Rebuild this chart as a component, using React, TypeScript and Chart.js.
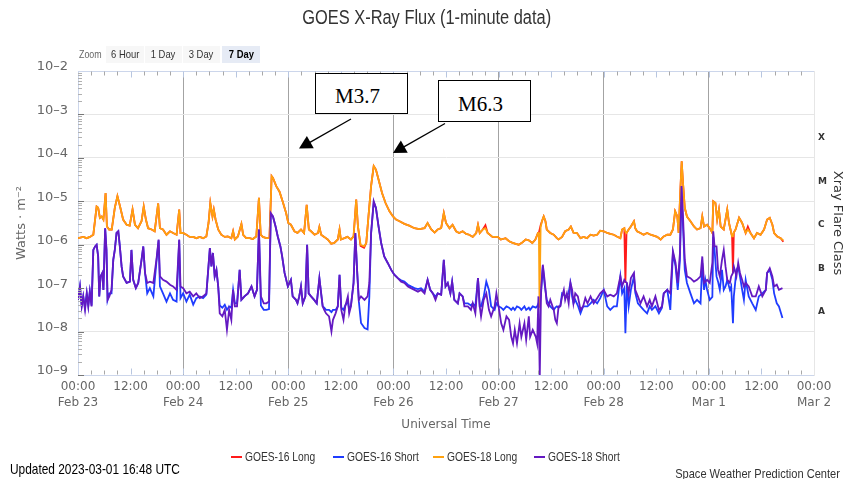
import React, { useEffect, useRef } from 'react';
import { Chart, registerables } from 'chart.js';

Chart.register(...registerables);

// ---------- data (hours since Feb 23 00:00 UTC, values as log10 of W/m²) ----------
const dayLabels = ['Feb 23', 'Feb 24', 'Feb 25', 'Feb 26', 'Feb 27', 'Feb 28', 'Mar 1', 'Mar 2'];
const tickHours = [0, 12, 24, 36, 48, 60, 72, 84, 96, 108, 120, 132, 144, 156, 168];
const fluxDecades = [-9, -8, -7, -6, -5, -4, -3, -2];
const flareClasses = ['A', 'B', 'C', 'M', 'X'];
const flareClassExps = [-7.5, -6.5, -5.5, -4.5, -3.5];

const longHours = [
  0, 1.2, 2, 2.7, 3.5, 3.9, 4.25, 4.6, 5, 5.4,
  5.8, 6.3, 6.6, 7.1, 7.7, 8.4, 9, 9.6, 10.3, 11.1,
  11.8, 12.45, 13, 13.7, 14.5, 15, 15.5, 16, 16.8, 17.5,
  18.3, 18.7, 19.4, 20.2, 21, 21.7, 22.5, 23.1, 23.4, 24,
  24.75, 25.5, 26.3, 27, 27.8, 28.55, 29.3, 29.8, 30.2, 30.7,
  31, 31.4, 32, 32.7, 33.5, 34.2, 35, 35.4, 35.8, 36.5,
  37.3, 37.7, 38.4, 39.2, 39.9, 40.7, 41.3, 41.7, 42.2, 43,
  43.7, 44.2, 44.5, 45.25, 46, 46.7, 47.5, 48, 48.6, 49.4,
  50.1, 50.9, 51.6, 52.2, 52.7, 53.2, 54, 54.8, 55.1, 55.5,
  56.2, 57, 57.8, 58.5, 59.3, 59.7, 60, 60.8, 61.5, 62.3,
  62.9, 63.5, 63.9, 64.5, 65.3, 65.8, 66.3, 66.9, 67.5, 68,
  68.6, 69.4, 70.2, 71.1, 71.9, 72.6, 73.4, 74.5, 75.6, 76.8,
  77.9, 79.1, 79.8, 80.6, 81.4, 82.1, 82.9, 83.5, 84, 84.8,
  85.5, 86.3, 87, 87.8, 88.6, 89.3, 90.1, 90.9, 91.3, 91.7,
  92.4, 93, 93.5, 94.6, 95.8, 96.5, 97.6, 98.4, 99.1, 99.9,
  100.6, 101.4, 102.2, 102.9, 103.7, 104.4, 105, 105.2, 105.35, 105.6,
  105.9, 106.3, 106.7, 107, 107.8, 108.6, 109.3, 109.7, 110.5, 111.2,
  112, 112.5, 113.1, 113.9, 114.7, 115.4, 116.2, 117, 117.7, 118.5,
  119.2, 120, 120.8, 121.5, 122.3, 123, 123.8, 124.2, 124.7, 124.95,
  125.2, 125.7, 126.2, 126.9, 127.2, 127.6, 128.4, 129.1, 129.9, 130.7,
  131.4, 132.2, 133, 133.7, 134.5, 135.2, 135.8, 136.3, 136.8, 137.1,
  137.5, 137.8, 138.1, 138.5, 139, 139.8, 140.6, 141.3, 142.1, 142.5,
  142.9, 143.6, 144.4, 144.8, 145, 145.5, 145.9, 146.3, 146.7, 147.4,
  148.2, 148.6, 149.3, 149.5, 149.7, 150.1, 150.9, 151.6, 152.4, 152.9,
  153.5, 154.3, 155, 155.8, 156.6, 157.3, 157.9, 158.5, 158.9, 159.6,
  160.4, 161,
];

const goes18Long = [
  -5.85, -5.82, -5.85, -5.82, -5.77, -5.42, -5.12, -5.15, -5.38, -5.35,
  -5.42, -4.81, -5.58, -5.65, -5.65, -5.15, -4.88, -5.12, -5.42, -5.54,
  -5.56, -5.19, -5.54, -5.62, -5.46, -5.12, -5.42, -5.62, -5.65, -5.69,
  -5.05, -5.62, -5.65, -5.77, -5.69, -5.73, -5.77, -5.19, -5.73, -5.73,
  -5.77, -5.82, -5.82, -5.85, -5.82, -5.85, -5.81, -5.5, -5.04, -5.35,
  -5.19, -5.42, -5.65, -5.77, -5.82, -5.81, -5.85, -5.69, -5.88, -5.81,
  -5.52, -5.77, -5.85, -5.85, -5.87, -5.81, -4.92, -5.77, -5.82, -5.85,
  -5.85, -4.42, -4.46, -4.65, -4.78, -5.0, -5.27, -5.5, -5.54, -5.69,
  -5.73, -5.65, -5.73, -5.08, -5.65, -5.69, -5.77, -5.73, -5.59, -5.77,
  -5.82, -5.88, -5.98, -5.96, -5.88, -5.65, -5.88, -5.85, -5.82, -5.88,
  -5.81, -4.96, -5.58, -6.0, -6.04, -5.96, -5.35, -4.65, -4.19, -4.27,
  -4.5, -4.81, -5.04, -5.23, -5.35, -5.42, -5.46, -5.52, -5.56, -5.62,
  -5.64, -5.62, -5.5, -5.64, -5.72, -5.65, -5.62, -5.27, -5.5, -5.62,
  -5.54, -5.69, -5.73, -5.69, -5.75, -5.77, -5.82, -5.73, -5.54, -5.73,
  -5.65, -5.62, -5.73, -5.82, -5.82, -5.88, -5.85, -5.92, -5.95, -5.98,
  -6.0, -5.95, -5.88, -5.9, -5.96, -5.88, -5.73, -5.72, -7.45, -5.6,
  -5.46, -5.35, -5.46, -5.65, -5.73, -5.77, -5.85, -5.88, -5.82, -5.69,
  -5.65, -5.58, -5.72, -5.73, -5.85, -5.82, -5.85, -5.77, -5.79, -5.77,
  -5.68, -5.69, -5.73, -5.75, -5.77, -5.81, -5.85, -5.65, -5.62, -5.7,
  -5.73, -5.65, -5.58, -5.46, -5.62, -5.69, -5.73, -5.77, -5.73, -5.77,
  -5.79, -5.82, -5.88, -5.81, -5.77, -5.77, -5.65, -5.23, -5.35, -5.73,
  -4.73, -4.08, -4.58, -5.15, -5.35, -5.46, -5.58, -5.65, -5.62, -5.35,
  -5.58, -5.54, -5.65, -5.73, -5.0, -5.04, -5.42, -5.19, -5.58, -5.65,
  -5.19, -5.5, -5.81, -5.78, -5.72, -5.65, -5.38, -5.5, -5.73, -5.65,
  -5.73, -5.85, -5.73, -5.77, -5.65, -5.42, -5.38, -5.54, -5.73, -5.81,
  -5.85, -5.9,
];

const goes16Long = [
  -5.85, -5.82, -5.85, -5.82, -5.77, -5.42, -5.12, -5.15, -5.38, -5.35,
  -5.42, -4.81, -5.58, -5.65, -5.65, -5.15, -4.88, -5.12, -5.42, -5.54,
  -5.56, -5.19, -5.54, -5.62, -5.46, -5.12, -5.42, -5.62, -5.65, -5.69,
  -5.05, -5.62, -5.65, -5.77, -5.69, -5.73, -5.77, -5.19, -5.73, -5.73,
  -5.77, -5.82, -5.82, -5.85, -5.82, -5.85, -5.81, -5.5, -5.04, -5.35,
  -5.19, -5.42, -5.65, -5.77, -5.82, -5.81, -5.85, -5.69, -5.88, -5.81,
  -5.52, -5.77, -5.85, -5.85, -5.87, -5.81, -4.92, -5.77, -5.82, -5.85,
  -5.85, -4.42, -4.46, -4.65, -4.78, -5.0, -5.27, -5.5, -5.54, -5.69,
  -5.73, -5.65, -5.73, -5.08, -5.65, -5.69, -5.77, -5.73, -5.59, -5.77,
  -5.82, -5.88, -5.98, -5.96, -5.88, -5.65, -5.88, -5.85, -5.82, -5.88,
  -5.81, -4.96, -5.58, -6.03, -6.07, -5.96, -5.35, -4.65, -4.19, -4.27,
  -4.5, -4.81, -5.04, -5.23, -5.35, -5.42, -5.46, -5.52, -5.56, -5.62,
  -5.64, -5.62, -5.5, -5.64, -5.72, -5.65, -5.62, -5.27, -5.5, -5.62,
  -5.54, -5.69, -5.73, -5.69, -5.75, -5.77, -5.82, -5.73, -5.54, -5.73,
  -5.65, -5.55, -5.73, -5.82, -5.82, -5.88, -5.85, -5.92, -5.95, -5.98,
  -6.0, -5.95, -5.88, -5.9, -5.96, -5.88, -5.73, -5.72, -5.66, -5.55,
  -5.46, -5.35, -5.46, -5.65, -5.73, -5.77, -5.85, -5.88, -5.82, -5.69,
  -5.65, -5.58, -5.72, -5.73, -5.85, -5.82, -5.85, -5.77, -5.79, -5.77,
  -5.68, -5.69, -5.73, -5.75, -5.77, -5.81, -5.85, -5.65, -5.62, -6.88,
  -5.73, -5.65, -5.58, -5.46, -5.62, -5.69, -5.73, -5.77, -5.73, -5.77,
  -5.79, -5.82, -5.88, -5.81, -5.77, -5.77, -5.65, -5.23, -5.35, -5.73,
  -4.73, -4.08, -4.58, -5.15, -5.35, -5.46, -5.58, -5.65, -5.62, -5.35,
  -5.58, -5.54, -5.65, -5.73, -5.0, -5.04, -5.42, -5.19, -5.58, -5.65,
  -5.19, -5.5, -5.81, -6.65, -5.72, -5.65, -5.38, -5.5, -5.73, -5.58,
  -5.73, -5.85, -5.73, -5.77, -5.65, -5.42, -5.38, -5.54, -5.73, -5.81,
  -5.85, -5.93,
];

const shortHours = [
  0, 0.45, 0.85, 1.2, 1.6, 2, 2.35, 2.7, 3.1, 3.5,
  3.9, 4.25, 4.6, 4.85, 5.15, 5.55, 5.8, 6.2, 6.5, 6.75,
  7.15, 7.65, 8.05, 8.4, 8.8, 9.2, 9.55, 9.95, 10.3, 11.1,
  11.85, 12.2, 12.6, 13.2, 13.75, 14.5, 14.9, 15.3, 15.8, 16.4,
  17.2, 17.9, 18.4, 18.7, 19.4, 20.2, 21, 21.7, 22.5, 23.1,
  23.4, 24, 24.75, 25.5, 26.3, 27, 27.8, 28.55, 29.3, 30.1,
  30.45, 30.8, 31.2, 31.6, 32, 32.35, 32.95, 33.5, 34, 34.5,
  35, 35.4, 35.8, 36.3, 36.9, 37.3, 38, 38.8, 39.6, 40.3,
  40.85, 41.3, 41.75, 42.4, 43, 43.6, 44, 44.5, 45.1, 45.6,
  46.2, 46.6, 47.15, 47.9, 48.6, 49, 49.75, 50.1, 50.5, 50.9,
  51.3, 51.9, 52.3, 52.65, 53.2, 53.9, 54.5, 55.1, 55.5, 55.85,
  56.2, 56.6, 57.3, 57.85, 58.2, 58.8, 59.3, 59.7, 60.1, 60.6,
  61, 61.6, 61.9, 62.3, 62.9, 63.3, 63.7, 64.1, 64.6, 65.4,
  66.1, 66.5, 66.9, 67.5, 68, 68.6, 69.2, 69.9, 70.7, 71.5,
  72.2, 73, 73.75, 74.5, 75.3, 76, 76.8, 77.6, 78.3, 79.1,
  79.8, 80.4, 81, 81.6, 82.1, 82.9, 83.5, 83.9, 84.4, 85,
  85.4, 85.9, 86.7, 87.1, 87.8, 88.2, 89, 89.7, 90.1, 90.7,
  91.3, 91.7, 92, 92.6, 93.2, 93.8, 94.3, 95.1, 95.5, 96,
  96.6, 97.1, 97.8, 98.4, 98.9, 99.3, 99.7, 100.2, 100.8, 101.2,
  101.9, 102.3, 102.9, 103.2, 103.8, 104.5, 104.8, 105.1, 105.4, 105.7,
  106.1, 106.5, 107, 107.4, 107.8, 108.6, 108.95, 109.3, 109.7, 110.1,
  110.5, 110.9, 111.2, 111.6, 112, 112.4, 112.8, 113.1, 113.5, 114.1,
  114.7, 115.3, 115.8, 116.3, 117, 117.7, 118.5, 119.2, 120, 120.8,
  121.5, 122.3, 123, 123.8, 124.2, 124.7, 124.95, 125.3, 125.7, 126.2,
  126.9, 127.2, 127.8, 128.4, 129.1, 129.9, 130.5, 131, 131.8, 132.6,
  133.3, 133.7, 134.5, 135.2, 135.8, 136.4, 136.9, 137.4, 137.75, 138.1,
  138.5, 139, 139.8, 140.6, 141.3, 142.1, 142.5, 142.9, 143.2, 143.6,
  144.2, 144.8, 145, 145.3, 145.75, 146.1, 146.5, 147, 147.4, 147.8,
  148.2, 148.8, 149.1, 149.5, 149.7, 150.3, 150.7, 151.1, 151.6, 152,
  152.4, 153.1, 153.9, 154.7, 155.4, 156.2, 157, 157.3, 157.9, 158.5,
  158.9, 159.5, 160, 160.8,
];

const goes18Short = [
  -7.27, -6.96, -7.42, -7.19, -7.5, -7.12, -7.42, -7.08, -7.42, -6.12,
  -6.04, -6.0, -6.27, -7.19, -6.73, -6.65, -7.04, -5.62, -6.12, -7.27,
  -7.19, -7.04, -6.35, -6.12, -5.73, -5.69, -6.04, -6.5, -6.73, -6.88,
  -6.85, -6.12, -6.81, -7.0, -6.88, -6.35, -6.04, -6.65, -6.88, -6.85,
  -6.88, -6.35, -5.88, -6.73, -6.81, -6.85, -6.92, -6.96, -7.04, -5.88,
  -6.96, -7.0, -7.12, -7.08, -7.19, -7.12, -7.23, -7.19, -7.12, -6.08,
  -6.5, -6.19, -6.73, -6.58, -6.96, -7.58, -7.65, -7.5, -7.96, -7.5,
  -7.73, -7.04, -7.42, -7.42, -6.58, -7.27, -7.19, -7.12, -6.96, -7.19,
  -7.04, -5.65, -7.19, -7.35, -7.35, -7.31, -5.27, -5.35, -5.58, -5.81,
  -6.04, -6.27, -6.65, -6.96, -6.81, -7.19, -7.27, -7.35, -7.19, -6.96,
  -7.35, -7.19, -6.0, -7.12, -7.19, -7.27, -7.35, -6.77, -7.12, -7.42,
  -7.5, -7.58, -7.65, -8.0, -7.73, -7.58, -7.42, -6.69, -7.5, -7.73,
  -7.42, -7.19, -7.58, -7.42, -6.88, -5.73, -6.58, -7.27, -7.19, -7.27,
  -7.19, -6.88, -5.73, -5.0, -5.15, -5.58, -5.96, -6.27, -6.42, -6.58,
  -6.69, -6.77, -6.85, -6.88, -6.96, -7.0, -7.04, -7.08, -7.04, -7.12,
  -6.81, -7.04, -7.12, -7.27, -7.12, -7.15, -6.35, -6.96, -6.88, -7.12,
  -6.85, -7.27, -7.35, -7.12, -7.19, -7.42, -7.42, -7.5, -7.35, -7.58,
  -6.77, -7.42, -7.65, -7.27, -7.12, -7.5, -7.65, -7.42, -7.12, -7.42,
  -7.81, -7.96, -7.65, -7.73, -8.12, -8.27, -7.96, -8.27, -7.81, -8.12,
  -7.81, -8.19, -7.65, -8.12, -7.96, -8.12, -8.27, -7.19, -9.05, -7.04,
  -6.46, -6.81, -7.35, -7.42, -7.27, -7.5, -7.73, -7.81, -7.42, -7.42,
  -7.19, -7.04, -7.27, -7.12, -7.35, -6.88, -7.04, -7.35, -7.12, -7.19,
  -7.5, -7.42, -7.23, -7.35, -7.19, -7.35, -7.23, -7.12, -7.04, -7.19,
  -7.15, -7.19, -7.12, -6.73, -6.96, -6.81, -6.85, -6.88, -7.12, -6.77,
  -6.65, -7.04, -7.19, -7.35, -7.19, -7.42, -7.27, -7.42, -7.19, -7.5,
  -7.42, -7.12, -7.04, -7.12, -6.15, -6.42, -6.88, -6.19, -4.65, -5.35,
  -6.35, -6.73, -6.77, -6.85, -6.81, -6.73, -6.27, -6.88, -6.85, -6.81,
  -6.88, -6.42, -5.69, -6.04, -6.04, -6.58, -6.73, -6.35, -6.12, -6.5,
  -6.81, -6.88, -6.73, -6.65, -6.5, -6.73, -6.42, -6.65, -6.81, -6.96,
  -6.88, -6.96, -7.19, -7.19, -6.96, -7.19, -7.04, -6.65, -6.54, -6.73,
  -6.96, -6.92, -7.04, -7.0,
];

const goes16Short = [
  -7.27, -6.96, -7.4, -7.19, -7.45, -7.12, -7.4, -7.08, -7.4, -6.12,
  -6.04, -6.0, -6.27, -7.19, -6.73, -6.65, -7.04, -5.62, -6.12, -7.27,
  -7.12, -7.12, -6.35, -6.12, -5.73, -5.69, -6.04, -6.5, -6.73, -6.88,
  -6.85, -6.12, -6.81, -7.0, -6.88, -6.35, -6.04, -6.65, -7.12, -7.0,
  -7.19, -6.4, -5.9, -6.96, -7.12, -7.31, -7.12, -7.27, -7.31, -5.9,
  -7.23, -7.12, -7.31, -7.15, -7.38, -7.23, -7.19, -7.23, -7.15, -6.08,
  -6.5, -6.19, -6.73, -6.58, -6.96, -7.4, -7.45, -7.38, -7.5, -7.42,
  -7.45, -7.04, -7.35, -7.35, -6.58, -7.27, -7.19, -7.12, -6.96, -7.19,
  -7.04, -5.65, -7.4, -7.5, -7.5, -7.48, -5.3, -5.35, -5.58, -5.81,
  -6.04, -6.27, -6.65, -6.96, -6.81, -7.19, -7.27, -7.35, -7.19, -6.96,
  -7.35, -7.19, -6.0, -7.12, -7.19, -7.27, -7.35, -6.77, -7.12, -7.42,
  -7.45, -7.5, -7.5, -7.55, -7.5, -7.5, -7.42, -6.69, -7.45, -7.5,
  -7.4, -7.3, -7.5, -7.4, -6.88, -5.73, -6.58, -7.3, -7.8, -7.92,
  -7.95, -7.2, -5.75, -5.02, -5.15, -5.58, -5.96, -6.27, -6.42, -6.58,
  -6.69, -6.77, -6.82, -6.85, -6.92, -6.96, -7.0, -7.02, -7.0, -7.08,
  -6.81, -7.04, -7.12, -7.2, -7.12, -7.15, -6.35, -6.96, -6.88, -7.12,
  -6.85, -7.27, -7.35, -7.12, -7.19, -7.35, -7.35, -7.4, -7.35, -7.42,
  -6.77, -7.42, -7.42, -7.2, -6.85, -7.04, -7.42, -7.5, -7.35, -7.42,
  -7.45, -7.5, -7.42, -7.45, -7.5, -7.45, -7.5, -7.42, -7.45, -7.5,
  -7.42, -7.5, -7.45, -7.5, -7.42, -7.45, -7.42, -7.35, -7.4, -7.12,
  -6.5, -6.9, -7.27, -7.35, -7.42, -7.5, -7.45, -7.42, -7.45, -7.4,
  -7.12, -7.15, -7.2, -7.2, -7.1, -6.88, -7.2, -7.35, -7.27, -7.4,
  -7.58, -7.42, -7.42, -7.42, -7.35, -7.27, -7.35, -7.23, -7.04, -7.42,
  -7.5, -7.42, -7.42, -6.73, -7.12, -7.0, -8.04, -6.88, -7.42, -7.04,
  -6.73, -7.1, -7.35, -7.42, -7.5, -7.58, -7.42, -7.5, -7.42, -7.58,
  -7.45, -7.12, -7.04, -7.5, -6.19, -6.5, -7.04, -6.35, -4.69, -5.58,
  -6.58, -6.88, -7.12, -7.35, -7.27, -7.35, -6.42, -7.04, -6.81, -7.04,
  -7.27, -7.2, -5.81, -6.12, -6.73, -6.85, -7.04, -6.58, -7.04, -6.96,
  -6.81, -7.04, -6.96, -7.81, -7.19, -6.58, -6.5, -6.73, -7.04, -7.27,
  -6.81, -7.19, -7.35, -7.5, -7.19, -7.12, -7.04, -6.65, -6.58, -6.81,
  -7.12, -7.35, -7.42, -7.69,
];

const seriesNames = ['GOES-16 Long', 'GOES-16 Short', 'GOES-18 Long', 'GOES-18 Short'];
const seriesColors = ['#ff1a1a', '#1f3cff', '#ffa20f', '#6419c2'];

// ---------- helpers ----------
const SANS = '"Liberation Sans", Arial, sans-serif';
const AXIS_FAMILY = '"DejaVu Sans", Verdana, sans-serif';
const NARROW_SCALE = 0.82;

function toPoints(hours: number[], exps: number[]) {
  const n = Math.min(hours.length, exps.length);
  const pts: { x: number; y: number }[] = [];
  for (let i = 0; i < n; i++) pts.push({ x: hours[i], y: Math.pow(10, exps[i]) });
  return pts;
}

const decorPlugin = {
  id: 'axisDecor',
  afterDraw(chart: any) {
    const { ctx, chartArea: a, scales } = chart;
    const xs = scales.x;
    const ys = scales.y;
    ctx.save();
    ctx.lineWidth = 1;
    const top = Math.round(a.top) + 0.5;
    const bottom = Math.round(a.bottom) - 0.5;
    ctx.strokeStyle = '#ccd6eb';
    ctx.beginPath();
    ctx.moveTo(a.left, top);
    ctx.lineTo(a.right, top);
    ctx.stroke();
    for (let h = 3; h < 168; h += 3) {
      const px = Math.round(xs.getPixelForValue(h)) + 0.5;
      const major = h % 12 === 0;
      ctx.strokeStyle = major ? '#b8c6e0' : '#a8a8a8';
      const len = major ? 6 : 4;
      ctx.beginPath();
      ctx.moveTo(px, bottom);
      ctx.lineTo(px, bottom - len);
      ctx.moveTo(px, top);
      ctx.lineTo(px, top + len);
      ctx.stroke();
    }
    for (let e = -9; e < -2; e++) {
      for (let k = 1; k <= 9; k++) {
        const py = Math.round(ys.getPixelForValue(k * Math.pow(10, e))) + 0.5;
        ctx.strokeStyle = k === 1 ? '#777' : '#b0b0b0';
        ctx.beginPath();
        ctx.moveTo(a.left, py);
        ctx.lineTo(a.left + (k === 1 ? 6 : 4), py);
        ctx.stroke();
      }
    }
    ctx.restore();
  },
};

function arrow(x1: number, y1: number, x2: number, y2: number, len = 13, half = 7) {
  const dx = x2 - x1;
  const dy = y2 - y1;
  const d = Math.sqrt(dx * dx + dy * dy);
  const ux = dx / d;
  const uy = dy / d;
  const bx = x2 - ux * len;
  const by = y2 - uy * len;
  const nx = -uy * half;
  const ny = ux * half;
  return {
    line: { x1, y1, x2: bx + ux * 2, y2: by + uy * 2 },
    head: `${x2},${y2} ${bx + nx},${by + ny} ${bx - nx},${by - ny}`,
  };
}

const arrows = [arrow(351, 119, 299, 148.5), arrow(445, 123.5, 393, 153)];

const zoomButtons = [
  { label: '6 Hour', left: 106, width: 38, selected: false },
  { label: '1 Day', left: 145, width: 37, selected: false },
  { label: '3 Day', left: 183, width: 37, selected: false },
  { label: '7 Day', left: 222, width: 38, selected: true },
];

const legendItems = [
  { lineLeft: 231, textLeft: 245 },
  { lineLeft: 333, textLeft: 347 },
  { lineLeft: 433, textLeft: 447 },
  { lineLeft: 534, textLeft: 548 },
];

function Narrow(props: { children: React.ReactNode; origin?: string; style?: React.CSSProperties }) {
  return (
    <span
      style={{
        display: 'inline-block',
        transform: `scaleX(${NARROW_SCALE})`,
        transformOrigin: props.origin || 'left center',
        whiteSpace: 'nowrap',
        ...(props.style || {}),
      }}
    >
      {props.children}
    </span>
  );
}

export default function App() {
  const ref = useRef<HTMLCanvasElement>(null);

  useEffect(() => {
    if (!ref.current) return;
    const chart = new Chart(ref.current, {
      type: 'line',
      data: {
        datasets: [
          { label: seriesNames[0], data: toPoints(longHours, goes16Long), borderColor: seriesColors[0], backgroundColor: seriesColors[0], order: 4 },
          { label: seriesNames[1], data: toPoints(shortHours, goes16Short), borderColor: seriesColors[1], backgroundColor: seriesColors[1], order: 3 },
          { label: seriesNames[2], data: toPoints(longHours, goes18Long), borderColor: seriesColors[2], backgroundColor: seriesColors[2], order: 2 },
          { label: seriesNames[3], data: toPoints(shortHours, goes18Short), borderColor: seriesColors[3], backgroundColor: seriesColors[3], order: 1 },
        ],
      },
      options: {
        animation: false,
        responsive: false,
        devicePixelRatio: 1,
        layout: { padding: { top: 71, left: 0, right: 0, bottom: 0 } },
        elements: {
          point: { radius: 0, hoverRadius: 0 },
          line: { borderWidth: 1.8, tension: 0, fill: false },
        },
        plugins: {
          legend: { display: false },
          title: { display: false },
          tooltip: { enabled: false },
        },
        scales: {
          x: {
            type: 'linear',
            position: 'bottom',
            min: 0,
            max: 168,
            afterBuildTicks: (s: any) => {
              s.ticks = tickHours.map((v) => ({ value: v }));
            },
            afterFit: (s: any) => {
              s.height = 104;
            },
            ticks: {
              autoSkip: false,
              maxRotation: 0,
              padding: 3,
              color: '#666',
              font: { family: AXIS_FAMILY, size: 12, lineHeight: 1.4 },
              callback: (v: any) => {
                const h = Number(v);
                if (h % 24 === 0) return ['00:00', dayLabels[h / 24]];
                return '12:00';
              },
            },
            grid: {
              drawTicks: false,
              lineWidth: 1,
              color: (c: any) => {
                const v = c.tick ? c.tick.value : -1;
                return v % 24 === 0 && v > 0 && v < 168 ? '#a3a3a3' : 'rgba(0,0,0,0)';
              },
            },
            border: { color: '#ccd6eb', width: 1 },
            title: {
              display: true,
              text: 'Universal Time',
              color: '#666',
              font: { family: AXIS_FAMILY, size: 12 },
              padding: { top: 0, bottom: 47 },
            },
          },
          y: {
            type: 'logarithmic',
            position: 'left',
            min: 1e-9,
            max: 1e-2,
            afterBuildTicks: (s: any) => {
              s.ticks = fluxDecades.map((e) => ({ value: Math.pow(10, e) }));
            },
            afterFit: (s: any) => {
              s.width = 78;
            },
            ticks: {
              padding: 10,
              color: '#666',
              labelOffset: -4,
              font: { family: AXIS_FAMILY, size: 13 },
              callback: (v: any) => '10–' + Math.round(-Math.log10(Number(v))),
            },
            grid: { drawTicks: false, color: '#e6e6e6', lineWidth: 1 },
            border: { color: '#ccd6eb', width: 1 },
            title: {
              display: true,
              text: 'Watts · m⁻²',
              color: '#666',
              font: { family: AXIS_FAMILY, size: 13 },
              padding: { top: 14, bottom: 0 },
            },
          },
          y2: {
            type: 'logarithmic',
            position: 'right',
            min: 1e-9,
            max: 1e-2,
            afterBuildTicks: (s: any) => {
              s.ticks = flareClassExps.map((e) => ({ value: Math.pow(10, e) }));
            },
            afterFit: (s: any) => {
              s.width = 29;
            },
            ticks: {
              padding: 4,
              color: '#333',
              labelOffset: 2,
              font: { family: AXIS_FAMILY, size: 9, weight: 'bold' },
              callback: (_v: any, i: number) => flareClasses[i],
            },
            grid: { display: false, drawTicks: false },
            border: { color: '#e6e6e6', width: 1 },
            title: {
              display: true,
              text: 'Xray Flare Class',
              color: '#333',
              font: { family: AXIS_FAMILY, size: 13, lineHeight: 0.8 },
              padding: { top: 0, bottom: 0 },
            },
          },
        },
      } as any,
      plugins: [decorPlugin],
    });
    return () => chart.destroy();
  }, []);

  return (
    <div
      style={{
        position: 'fixed',
        left: 0,
        top: 0,
        width: 843,
        height: 479,
        background: '#fff',
        overflow: 'hidden',
        fontFamily: SANS,
      }}
    >
      <canvas
        ref={ref}
        width={843}
        height={479}
        style={{ position: 'absolute', left: 0, top: 0, width: 843, height: 479 }}
      />

      {/* title */}
      <div
        style={{
          position: 'absolute',
          left: 10,
          width: 833,
          top: 5,
          textAlign: 'center',
          fontSize: 20,
          lineHeight: '24px',
          color: '#333',
        }}
      >
        <Narrow origin="center center">GOES X-Ray Flux (1-minute data)</Narrow>
      </div>

      {/* zoom buttons */}
      <div
        style={{
          position: 'absolute',
          left: 79,
          top: 46,
          height: 17,
          lineHeight: '17px',
          fontSize: 10.8,
          color: '#666',
        }}
      >
        <Narrow>Zoom</Narrow>
      </div>
      {zoomButtons.map((b) => (
        <div
          key={b.label}
          style={{
            position: 'absolute',
            left: b.left,
            top: 46,
            width: b.width,
            height: 17,
            lineHeight: '17px',
            textAlign: 'center',
            fontSize: 11.5,
            background: b.selected ? '#e6ebf5' : '#f7f7f7',
            color: b.selected ? '#000' : '#333',
            fontWeight: b.selected ? 'bold' : 'normal',
          }}
        >
          <Narrow origin="center center">{b.label}</Narrow>
        </div>
      ))}

      {/* annotation boxes */}
      {[
        { text: 'M3.7', left: 315, top: 73, height: 41 },
        { text: 'M6.3', left: 438, top: 80, height: 42 },
      ].map((b) => (
        <div
          key={b.text}
          style={{
            position: 'absolute',
            left: b.left,
            top: b.top,
            width: 93,
            height: b.height,
            boxSizing: 'border-box',
            border: '1.3px solid #000',
            background: '#fff',
            display: 'flex',
            alignItems: 'center',
            justifyContent: 'center',
            paddingRight: 8,
            paddingTop: 6,
            fontFamily: '"Liberation Serif", "Times New Roman", serif',
            fontSize: 21,
            color: '#000',
          }}
        >
          {b.text}
        </div>
      ))}
      <svg
        width={843}
        height={479}
        style={{ position: 'absolute', left: 0, top: 0, pointerEvents: 'none' }}
      >
        {arrows.map((a, i) => (
          <g key={i}>
            <line x1={a.line.x1} y1={a.line.y1} x2={a.line.x2} y2={a.line.y2} stroke="#000" strokeWidth={1.3} />
            <polygon points={a.head} fill="#000" />
          </g>
        ))}
      </svg>

      {/* legend */}
      {legendItems.map((it, i) => (
        <React.Fragment key={seriesNames[i]}>
          <div
            style={{
              position: 'absolute',
              left: it.lineLeft,
              top: 456,
              width: 11,
              height: 2,
              background: seriesColors[i],
            }}
          />
          <div
            style={{
              position: 'absolute',
              left: it.textLeft,
              top: 449,
              lineHeight: '16px',
              fontSize: 12.5,
              color: '#333',
            }}
          >
            <Narrow>{seriesNames[i]}</Narrow>
          </div>
        </React.Fragment>
      ))}

      {/* footer */}
      <div
        style={{
          position: 'absolute',
          left: 10,
          top: 461,
          lineHeight: '16px',
          fontSize: 14.5,
          color: '#000',
        }}
      >
        <Narrow>Updated 2023-03-01 16:48 UTC</Narrow>
      </div>
      <div
        style={{
          position: 'absolute',
          right: 3,
          top: 466,
          lineHeight: '16px',
          fontSize: 13.5,
          color: '#333',
          textAlign: 'right',
        }}
      >
        <Narrow origin="right center">Space Weather Prediction Center</Narrow>
      </div>
    </div>
  );
}
